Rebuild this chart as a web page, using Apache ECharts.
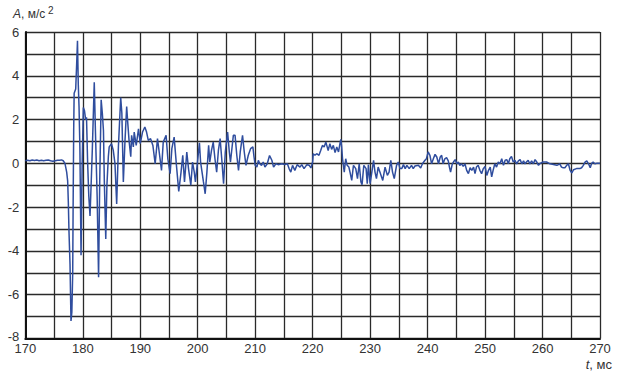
<!DOCTYPE html>
<html>
<head>
<meta charset="utf-8">
<script src="https://cdn.jsdelivr.net/npm/echarts@6/dist/echarts.min.js"></script>
<style>
html,body{margin:0;padding:0;background:#fff;}
#chart{width:621px;height:381px;}
</style>
</head>
<body>
<div id="chart"></div>
<script>
// time, ms
const timeMs = [
170.0,170.4,170.8,171.2,171.6,172.0,172.4,172.8,173.2,173.6,174.0,174.4,174.8,175.2,175.6,176.0,176.3,176.6,176.9,
177.2,177.37,177.49,177.6,177.78,177.95,178.1,178.25,178.32,178.42,178.5,178.77,178.94,179.08,179.22,179.35,179.5,179.7,179.9,
180.1,180.3,180.5,180.65,180.85,181.05,181.26,181.45,181.67,182.0,182.2,182.5,182.75,182.95,183.2,183.4,183.6,183.75,184.0,
184.2,184.45,184.6,185.0,185.3,185.6,185.9,186.2,186.6,186.8,187.06,187.35,187.64,187.8,188.05,188.35,
188.5,188.8,188.95,189.3,189.7,190.0,190.4,190.8,191.1,191.4,191.8,192.2,192.6,193.0,193.3,193.7,194.0,194.5,194.8,
195.2,195.5,195.9,196.3,196.7,197.1,197.4,197.7,198.1,198.4,198.8,199.1,199.4,199.6,199.9,200.3,200.5,201.0,201.3,
201.6,201.9,202.1,202.4,202.7,203.0,203.3,203.6,203.9,204.2,204.5,204.8,205.2,205.5,205.7,206.2,206.5,206.8,207.1,
207.4,207.8,208.1,208.4,208.8,209.2,209.6,209.8,210.0,
210.3,210.55,210.8,211.1,211.4,211.7,212.1,212.5,212.9,213.2,213.6,214.0,214.6,215.2,215.6,215.9,216.2,216.5,216.9,
217.3,217.8,218.1,218.5,219.0,219.4,219.7,220.0,220.1,220.4,220.7,221.1,221.4,221.7,222.0,222.3,222.7,223.0,223.3,
223.6,223.9,224.2,224.5,224.8,224.9,225.05,225.2,225.5,225.75,226.0,226.3,226.5,226.8,227.1,227.5,227.8,228.1,228.4,
228.6,228.9,229.3,229.5,229.7,230.0,230.3,230.6,230.85,231.1,231.4,231.7,232.2,232.6,233.0,233.3,233.6,233.9,234.2,
234.6,234.9,235.2,235.5,235.8,236.1,236.4,236.8,237.2,237.5,237.8,238.4,238.8,239.1,239.55,239.8,240.1,240.4,
240.7,241.0,241.3,241.6,241.9,242.2,242.45,242.7,243.0,243.3,243.6,243.8,244.0,244.3,244.5,244.8,245.1,245.35,245.6,
245.9,246.2,246.5,246.8,247.1,247.4,247.7,248.0,248.25,248.5,248.8,249.1,249.4,249.7,250.0,250.3,250.6,250.9,251.15,
251.4,251.7,252.0,252.3,252.6,252.9,253.2,253.5,253.8,254.05,254.3,254.6,254.9,255.2,255.5,255.8,256.1,256.4,256.7,
256.95,257.2,257.5,257.8,258.1,258.4,258.7,259.0,259.3,259.6,260.1,260.7,261.3,261.9,262.5,263.0,263.3,263.6,263.9,
264.2,264.5,264.8,265.1,265.4,265.9,266.5,266.8,267.1,267.4,267.7,268.0,268.3,268.55,268.8,269.1,269.4,270.0
];
// acceleration A, m/s^2
const accel = [
0.12,0.14,0.12,0.15,0.13,0.15,0.12,0.14,0.12,0.14,0.15,0.12,0.10,0.12,0.14,0.14,0.16,0.12,0.0,
-0.4,-0.8,-1.8,-3.1,-4.6,-7.2,-6.8,-5.0,-2.0,1.5,3.2,3.4,4.55,5.6,3.6,2.6,0.7,-4.2,0.0,
2.55,2.4,2.0,2.1,0.0,-1.5,-2.4,-1.0,0.7,3.7,1.5,-1.5,-5.2,-0.8,2.9,2.3,1.5,-0.8,-3.45,
-1.0,0.3,0.75,0.9,0.6,0.0,-1.85,0.75,3.0,2.3,-0.85,1.05,2.6,1.95,1.05,0.3,
1.28,0.75,1.43,0.82,1.58,0.9,1.43,1.66,1.43,1.05,1.13,0.82,-0.02,1.13,0.52,-0.32,0.97,1.28,0.21,
-0.47,0.67,1.2,-0.09,-1.28,-0.4,0.37,-0.85,0.52,-0.24,-1.0,0.06,-0.4,-0.85,-0.09,0.94,0.06,-0.85,-1.39,
-0.4,0.82,0.06,0.59,0.97,0.21,-0.4,0.59,1.13,0.14,-0.93,0.52,1.43,0.52,0.06,1.28,1.28,0.37,-0.32,
0.52,1.28,0.52,-0.09,0.37,0.67,0.75,0.29,-0.09,
-0.17,0.14,-0.02,-0.09,0.06,-0.17,-0.02,0.36,0.14,-0.17,-0.02,-0.06,-0.02,-0.05,-0.02,-0.24,-0.40,-0.09,-0.32,
-0.06,-0.17,-0.06,-0.24,-0.06,-0.09,-0.21,0.06,0.44,0.37,0.44,0.37,0.59,0.82,0.75,0.97,0.59,0.90,0.64,
0.82,0.49,0.75,0.52,0.97,1.10,0.75,0.21,-0.40,0.21,-0.09,-0.17,-0.40,-0.78,-0.09,-0.24,-0.70,-0.02,-0.85,
-0.97,-0.09,-0.24,-0.93,-0.06,-0.93,-0.40,0.14,-0.40,-0.70,-0.17,-0.40,-0.78,-0.17,-0.55,-0.40,0.14,-0.40,-0.70,
-0.09,0.06,-0.24,-0.24,-0.06,-0.24,-0.09,-0.24,-0.09,-0.24,-0.12,-0.09,-0.21,-0.02,0.14,0.21,0.52,0.37,
-0.02,0.21,0.41,0.29,-0.02,0.29,0.37,-0.02,0.21,0.26,0.11,-0.17,-0.40,-0.02,0.06,0.17,-0.02,0.06,-0.09,
-0.02,-0.14,-0.02,-0.32,-0.47,-0.20,-0.32,-0.17,-0.47,-0.17,-0.09,-0.32,-0.47,-0.24,-0.14,-0.55,-0.32,-0.17,-0.62,
-0.32,-0.02,-0.17,0.06,-0.02,0.21,-0.09,0.14,0.17,-0.02,0.21,0.32,0.06,0.14,-0.02,0.11,0.17,-0.02,0.11,
-0.02,0.06,0.14,-0.02,0.11,-0.02,0.17,0.06,-0.09,0.0,0.06,0.06,-0.02,-0.05,-0.09,-0.02,-0.17,-0.20,-0.20,
-0.09,-0.02,-0.32,-0.44,-0.29,-0.24,-0.24,-0.20,-0.09,0.06,0.11,-0.02,-0.20,0.0,0.06,-0.02,0.0,0.0
];
const xTickLabels = [170,180,190,200,210,220,230,240,250,260,270];
const yTickLabels = [-8,-6,-4,-2,0,2,4,6];

const chart = echarts.init(document.getElementById('chart'), null, {renderer:'svg'});
const points = timeMs.map((t,i)=>[t, accel[i]]);
const gridColor = '#2a2a2a';
const font = '"Liberation Sans", Arial, sans-serif';
const yMin = yTickLabels[0];
chart.setOption({
  animation:false,
  backgroundColor:'#fff',
  grid:{left:25.3, right:21, top:32, bottom:42.5, containLabel:false},
  xAxis:{
    type:'value', min:170, max:270, interval:5,
    axisLine:{show:true, onZero:false, lineStyle:{color:'#111', width:2}},
    axisTick:{show:false},
    splitLine:{show:true, lineStyle:{color:gridColor, width:1.3}},
    axisLabel:{margin:4, lineHeight:11, color:'#333', fontSize:13, fontFamily:font,
      formatter:v=> xTickLabels.includes(v) ? String(v) : ''}
  },
  yAxis:{
    type:'value', min:-8, max:6, interval:1,
    axisLine:{show:true, onZero:false, lineStyle:{color:'#111', width:2}},
    axisTick:{show:false},
    splitLine:{show:true, lineStyle:{color:gridColor, width:1.3}},
    axisLabel:{margin:6, color:'#333', fontSize:13, fontFamily:font,
      rich:{low:{fontSize:13, fontFamily:font, color:'#333', padding:[0,0,5,0]}},
      formatter:v=> v === yMin ? '{low|' + v + '}' : (yTickLabels.includes(v) ? String(v) : '')}
  },
  graphic:[
    {type:'text', x:13, y:8, style:{text:'{i|A}, м/с', fill:'#333', fontSize:12, fontFamily:font,
      rich:{i:{fontStyle:'italic', fontSize:12, fontFamily:font, fill:'#333'}}}},
    {type:'text', x:48, y:5, style:{text:'2', fill:'#333', fontSize:10, fontFamily:font}},
    {type:'text', x:612, y:358, style:{text:'{i|t}, мс', fill:'#333', fontSize:13, fontFamily:font, align:'right',
      rich:{i:{fontStyle:'italic', fontSize:13, fontFamily:font, fill:'#333'}}}}
  ],
  series:[{
    type:'line', data:points, showSymbol:false, symbol:'none',
    lineStyle:{color:'#2f4d9e', width:1.5}, z:3
  }]
});
</script>
</body>
</html>
